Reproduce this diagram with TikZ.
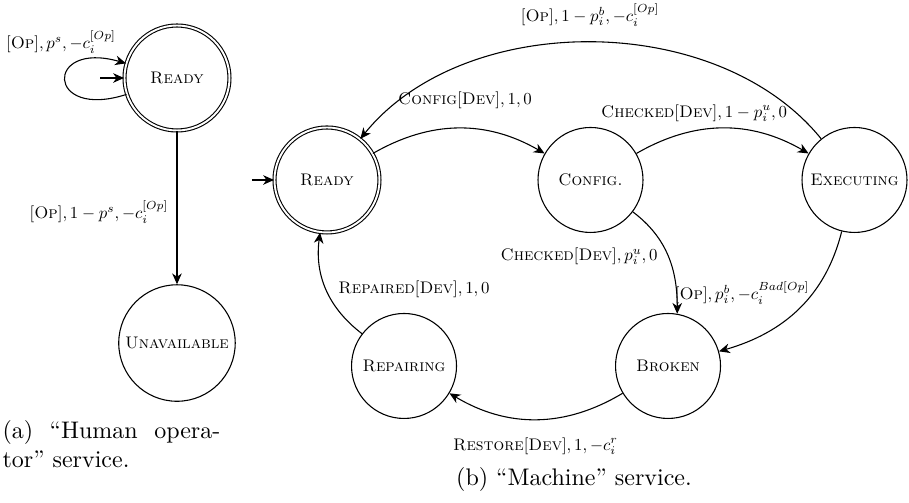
\documentclass[tikz,border=0pt]{standalone}
\usepackage{graphicx}
\usetikzlibrary{arrows.meta}
\newcommand{\shrink}[1]{\scalebox{0.7}{#1}}
\begin{document}
\begin{tikzpicture}[>={Stealth[length=4.5pt,width=4pt,inset=1.4pt]}, line width=0.45pt]
\tikzstyle{state} = [circle, draw=black, minimum size=1.537cm, inner sep=2.3pt]
\tikzstyle{accept} = [state, double, double distance=0.8pt]
\tikzstyle{lbl} = [inner sep=1pt]
\useasboundingbox (0,0) rectangle (13.308,7.364);
% (a) human operator
\node[accept] at (2.591,6.222) (op_ready){\shrink{\textsc{Ready}}};
\node[state] at (2.591,2.342) (op_unav){\shrink{\textsc{Unavailable}}};
\coordinate (op_in) at (1.464,6.222);
\node[lbl] at (0.893,6.749) (op_l0){\shrink{$[\textsc{Op}], p^s, -c_i^{[Op]}$}};
\node[lbl] at (1.449,4.260) (op_l1){\shrink{$[\textsc{Op}], 1-p^s, -c_i^{[Op]}$}};
\draw[->] (op_in) -- (op_ready);
\draw[->] (op_ready) to[out=198, in=164, looseness=7] (op_ready);
\draw[->] (op_ready) -- (op_unav);
\node[anchor=north west, inner sep=0, align=left] at (0.029,1.215) (cap_a){\makebox[3.19cm][s]{(a) ``Human opera-}\\[0pt]tor'' service.};
% (b) machine
\node[accept] at (4.787,4.729) (m_ready){\shrink{\textsc{Ready}}};
\node[state] at (8.645,4.729) (m_config){\shrink{\textsc{Config.}}};
\node[state] at (12.510,4.729) (m_exec){\shrink{\textsc{Executing}}};
\node[state] at (9.780,2.006) (m_broken){\shrink{\textsc{Broken}}};
\node[state] at (5.915,2.006) (m_repair){\shrink{\textsc{Repairing}}};
\coordinate (m_in) at (3.689,4.729);
\node[lbl] at (8.638,7.144) (m_l0){\shrink{$[\textsc{Op}], 1-p_i^b, -c_i^{[Op]}$}};
\node[lbl] at (6.808,5.900) (m_l1){\shrink{$\textsc{Config}[\textsc{Dev}], 1, 0$}};
\node[lbl] at (10.160,5.710) (m_l2){\shrink{$\textsc{Checked}[\textsc{Dev}], 1-p_i^u, 0$}};
\node[lbl] at (8.477,3.616) (m_l3){\shrink{$\textsc{Checked}[\textsc{Dev}], p_i^u, 0$}};
\node[lbl] at (10.863,3.074) (m_l4){\shrink{$[\textsc{Op}], p_i^b, -c_i^{Bad[Op]}$}};
\node[lbl] at (7.840,0.835) (m_l5){\shrink{$\textsc{Restore}[\textsc{Dev}], 1, -c_i^r$}};
\node[lbl] at (6.061,3.133) (m_l6){\shrink{$\textsc{Repaired}[\textsc{Dev}], 1, 0$}};
\draw[->] (m_in) -- (m_ready);
\draw[->] (m_ready) to[bend left=30] (m_config);
\draw[->] (m_config) to[bend left=30] (m_exec);
\draw[->] (m_exec) to[bend right=51, looseness=0.92] (m_ready);
\draw[->] (m_config) to[out=-37, in=90] (m_broken.80);
\draw[->] (m_exec) to[out=-104, in=16] (m_broken);
\draw[->] (m_broken) to[bend left=31] (m_repair);
\draw[->] (m_repair) to[bend left=30] (m_ready);
\node at (8.403,0.337) (cap_b){(b) ``Machine'' service.};
\end{tikzpicture}
\end{document}
